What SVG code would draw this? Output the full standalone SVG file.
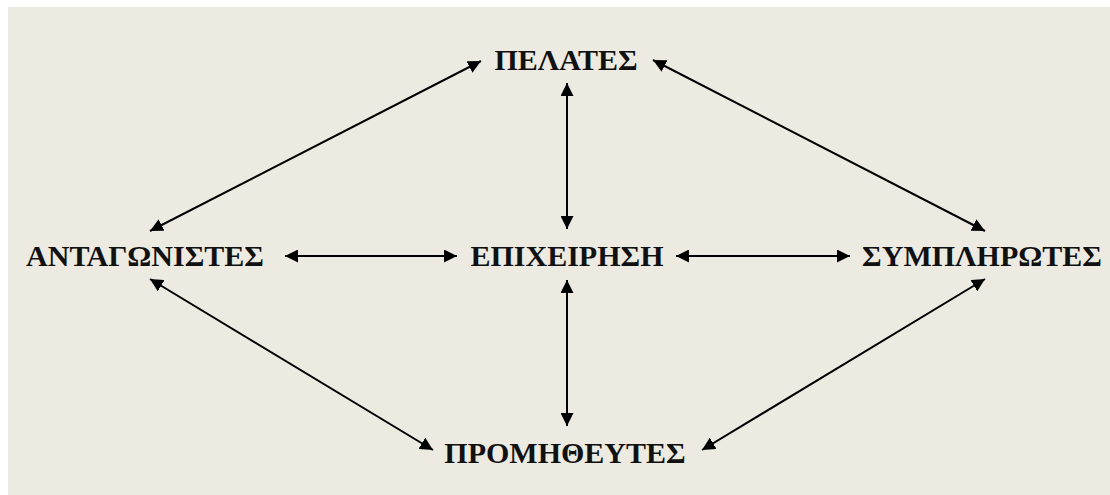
<svg xmlns="http://www.w3.org/2000/svg" width="1110" height="495" viewBox="0 0 1110 495">
  <style>
    .label { font-family: "Liberation Serif", "Times New Roman", serif; font-weight: bold; font-size: 30px; fill: #111; text-anchor: middle; }
    .link { stroke: #000; stroke-width: 2; fill: none; marker-start: url(#head); marker-end: url(#head); }
  </style>
  <defs>
    <marker id="head" viewBox="0 0 13 13" refX="13" refY="6.5" markerWidth="13" markerHeight="13" markerUnits="userSpaceOnUse" orient="auto-start-reverse">
      <path d="M0,0 L13,6.5 L0,13 z" fill="#000"/>
    </marker>
  </defs>

  <!-- page background -->
  <rect x="8" y="7" width="1102" height="488" fill="#EDEAE2"/>

  <!-- two-way links between the forces -->
  <g id="connectors">
    <line class="link" x1="150" y1="231" x2="481" y2="61"/>
    <line class="link" x1="653" y1="60" x2="985" y2="231"/>
    <line class="link" x1="567" y1="83" x2="567" y2="229"/>
    <line class="link" x1="285" y1="256" x2="457" y2="256"/>
    <line class="link" x1="676" y1="256" x2="850" y2="256"/>
    <line class="link" x1="567" y1="280" x2="567" y2="426"/>
    <line class="link" x1="150" y1="279" x2="433" y2="450"/>
    <line class="link" x1="985" y1="279" x2="702" y2="450"/>
  </g>

  <g id="customers"><text class="label" x="566" y="70">ΠΕΛΑΤΕΣ</text></g>
  <g id="competitors"><text class="label" x="145" y="266">ΑΝΤΑΓΩΝΙΣΤΕΣ</text></g>
  <g id="firm"><text class="label" x="567" y="266">ΕΠΙΧΕΙΡΗΣΗ</text></g>
  <g id="complementors"><text class="label" x="982" y="266">ΣΥΜΠΛΗΡΩΤΕΣ</text></g>
  <g id="suppliers"><text class="label" x="565" y="463">ΠΡΟΜΗΘΕΥΤΕΣ</text></g>
</svg>
